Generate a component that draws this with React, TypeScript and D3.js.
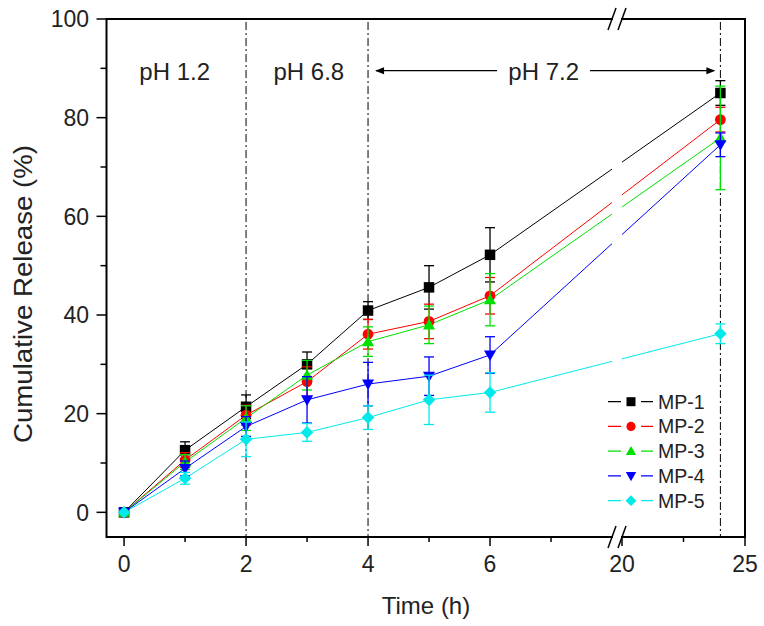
import React from "react";
import * as d3 from "d3";

const times = [0, 1, 2, 3, 4, 5, 6, 24];
const seriesNames = ["MP-1", "MP-2", "MP-3", "MP-4", "MP-5"];
const mp1 = [0, 12.6, 21.4, 30.0, 40.9, 45.6, 52.2, 85.0];
const mp1Err = [0, 1.7, 2.4, 2.5, 1.8, 4.4, 5.5, 2.5];
const mp2 = [0, 10.6, 19.7, 26.5, 36.1, 38.7, 43.9, 79.6];
const mp2Err = [0, 1.5, 2.0, 3.0, 3.0, 3.5, 3.7, 2.5];
const mp3 = [0, 10.2, 19.1, 27.8, 34.6, 38.0, 43.1, 75.9];
const mp3Err = [0, 1.5, 2.5, 3.0, 3.0, 3.8, 5.3, 10.5];
const mp4 = [0, 8.9, 17.4, 22.8, 26.0, 27.6, 31.9, 74.5];
const mp4Err = [0, 1.5, 2.0, 4.7, 4.4, 3.9, 3.7, 2.4];
const mp5 = [0, 6.9, 14.8, 16.2, 19.2, 22.8, 24.3, 36.2];
const mp5Err = [0, 1.2, 3.5, 1.8, 2.4, 5.0, 4.0, 2.0];

const xMajorTicks = [0, 2, 4, 6, 20, 25];
const xMinorTicks = [1, 3, 5, 7, 22.5];
const yMajorTicks = [0, 20, 40, 60, 80, 100];
const yMinorTicks = [10, 30, 50, 70, 90];
const phBoundaries = [2, 4, 24];
const phLabels = [
  { text: "pH 1.2", t: 0.25 },
  { text: "pH 6.8", t: 2.45 },
  { text: "pH 7.2", t: 6.3 },
];

const colors = ["#000000", "#ff0000", "#00e000", "#0000ff", "#00eaea"];
const shapes = ["square", "circle", "up", "down", "diamond"];
const values = [mp1, mp2, mp3, mp4, mp5];
const errors = [mp1Err, mp2Err, mp3Err, mp4Err, mp5Err];

const FONT = "'Liberation Sans', Arial, Helvetica, sans-serif";

const L = 106.5, R = 745, T = 19, B = 537;
const BREAK_L = 612, BREAK_R = 622;

const xLeft = d3.scaleLinear().domain([-0.28, 8]).range([107, BREAK_L]);
const xRight = d3.scaleLinear().domain([20, 25]).range([BREAK_R, R]);
const x = (t: number) => (t <= 8 ? xLeft(t) : xRight(t));
const y = d3.scaleLinear().domain([-5, 100]).range([B, T]);

function markerPath(shape: string, s: number) {
  const h = s / 2;
  switch (shape) {
    case "square":
      return `M${-h},${-h}H${h}V${h}H${-h}Z`;
    case "circle":
      return d3.symbol(d3.symbolCircle, Math.PI * h * h * 1.05)() as string;
    case "up": {
      const w = h * 1.15;
      return `M0,${-w}L${w},${w * 0.75}L${-w},${w * 0.75}Z`;
    }
    case "down": {
      const w = h * 1.15;
      return `M0,${w}L${w},${-w * 0.75}L${-w},${-w * 0.75}Z`;
    }
    case "diamond": {
      const w = h * 1.2;
      return `M0,${-w}L${w},0L0,${w}L${-w},0Z`;
    }
  }
  return "";
}

export default function App() {
  const line = d3
    .line<number>()
    .x((_, i) => x(times[i]))
    .y((v) => y(v));

  const legendY = (i: number) => 401.7 + i * 24.75;

  return (
    <svg
      width={764}
      height={626}
      style={{ position: "absolute", left: 0, top: 0, background: "#fff" }}
      fontFamily={FONT}
    >
      <defs>
        <clipPath id="clipLeft">
          <rect x={L} y={T} width={BREAK_L - L} height={B - T} />
        </clipPath>
        <clipPath id="clipRight">
          <rect x={BREAK_R} y={T} width={R - BREAK_R} height={B - T} />
        </clipPath>
      </defs>
      <rect x={0} y={0} width={764} height={626} fill="#fff" />

      {/* pH boundary lines */}
      {phBoundaries.map((t) => (
        <line
          key={"b" + t}
          x1={x(t)}
          x2={x(t)}
          y1={T + 3}
          y2={B}
          stroke="#000"
          strokeWidth={1}
          strokeDasharray="8 3 2 3"
        />
      ))}

      {/* pH labels */}
      {phLabels.map((p) => (
        <text key={p.text} x={x(p.t)} y={80} fontSize={24} fill="#222">
          {p.text}
        </text>
      ))}
      {/* pH 7.2 arrow */}
      <g stroke="#000" strokeWidth={1.2}>
        <line x1={x(4) + 8} x2={497} y1={70.7} y2={70.7} />
        <line x1={590} x2={x(24) - 8} y1={70.7} y2={70.7} />
      </g>
      <path d={`M${x(4) + 7},70.7 l9,-3.5 v7 Z`} fill="#000" />
      <path d={`M${x(24) - 5},70.7 l-9,-3.5 v7 Z`} fill="#000" />

      {/* series lines */}
      {values.map((vals, si) => (
        <g key={"l" + si} fill="none" stroke={colors[si]} strokeWidth={1}>
          <path d={line(vals) as string} clipPath="url(#clipLeft)" />
          <path d={line(vals) as string} clipPath="url(#clipRight)" />
        </g>
      ))}

      {/* error bars and markers */}
      {values.map((vals, si) => (
        <g key={"m" + si}>
          {vals.map((v, i) => {
            const e = errors[si][i];
            if (!e) return null;
            const cx = x(times[i]);
            return (
              <g key={i} stroke={colors[si]} strokeWidth={1.3}>
                <line x1={cx} x2={cx} y1={y(v - e)} y2={y(v + e)} />
                <line x1={cx - 5} x2={cx + 5} y1={y(v - e)} y2={y(v - e)} />
                <line x1={cx - 5} x2={cx + 5} y1={y(v + e)} y2={y(v + e)} />
              </g>
            );
          })}
          {vals.map((v, i) => (
            <path
              key={"p" + i}
              d={markerPath(shapes[si], 10.5)}
              transform={`translate(${x(times[i])},${y(v)})`}
              fill={colors[si]}
            />
          ))}
        </g>
      ))}

      {/* frame */}
      <rect x={L} y={T} width={R - L} height={B - T} fill="none" stroke="#000" strokeWidth={2} />

      {/* break marks */}
      {[T, B].map((yy) => (
        <g key={"br" + yy}>
          <rect x={BREAK_L + 1} y={yy - 2} width={BREAK_R - BREAK_L - 2} height={4} fill="#fff" />
          <line x1={BREAK_L - 4} y1={yy + 11} x2={BREAK_L + 4} y2={yy - 11} stroke="#000" strokeWidth={1.5} />
          <line x1={BREAK_R - 4} y1={yy + 11} x2={BREAK_R + 4} y2={yy - 11} stroke="#000" strokeWidth={1.5} />
        </g>
      ))}

      {/* x axis ticks */}
      {xMajorTicks.map((t) => (
        <g key={"xt" + t}>
          <line x1={x(t)} x2={x(t)} y1={B} y2={B + 9} stroke="#000" strokeWidth={1.5} />
          <text x={x(t)} y={572} fontSize={23} textAnchor="middle" fill="#222">
            {t}
          </text>
        </g>
      ))}
      {xMinorTicks.map((t) => (
        <line key={"xm" + t} x1={x(t)} x2={x(t)} y1={B} y2={B + 5} stroke="#000" strokeWidth={1.5} />
      ))}

      {/* y axis ticks */}
      {yMajorTicks.map((v) => (
        <g key={"yt" + v}>
          <line x1={L - 10} x2={L} y1={y(v)} y2={y(v)} stroke="#000" strokeWidth={1.5} />
          <text x={89} y={y(v)} dy="0.36em" fontSize={23} textAnchor="end" fill="#222">
            {v}
          </text>
        </g>
      ))}
      {yMinorTicks.map((v) => (
        <line key={"ym" + v} x1={L - 6} x2={L} y1={y(v)} y2={y(v)} stroke="#000" strokeWidth={1.5} />
      ))}

      {/* axis titles */}
      <text x={426} y={614} fontSize={24} textAnchor="middle" fill="#222">
        Time (h)
      </text>
      <text
        transform="translate(32,294) rotate(-90)"
        fontSize={25}
        textAnchor="middle"
        textLength={298}
        lengthAdjust="spacingAndGlyphs"
        fill="#222"
      >
        Cumulative Release (%)
      </text>

      {/* legend */}
      {seriesNames.map((name, i) => (
        <g key={name}>
          <line x1={608} x2={653} y1={legendY(i)} y2={legendY(i)} stroke={colors[i]} strokeWidth={1.2} />
          <rect x={621} y={legendY(i) - 6} width={20} height={12} fill="#fff" />
          <path d={markerPath(shapes[i], 9)} transform={`translate(631,${legendY(i)})`} fill={colors[i]} />
          <text x={658} y={legendY(i)} dy="0.36em" fontSize={19.5} fill="#222">
            {name}
          </text>
        </g>
      ))}
    </svg>
  );
}
